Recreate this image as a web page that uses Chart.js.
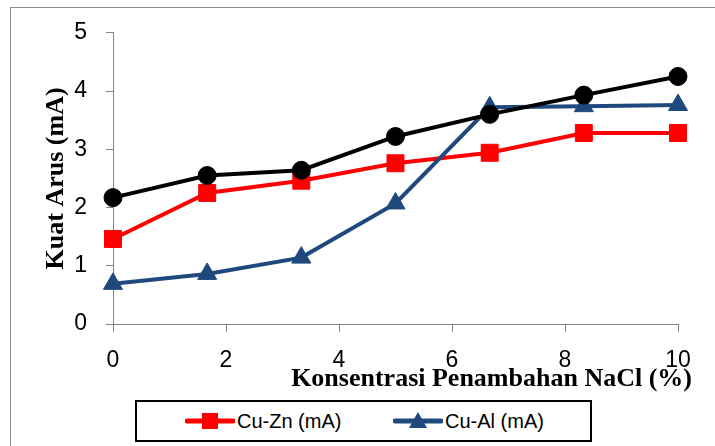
<!DOCTYPE html>
<html>
<head>
<meta charset="utf-8">
<script src="https://cdn.jsdelivr.net/npm/chart.js@4.4.1/dist/chart.umd.min.js"></script>
<style>
  html, body { margin: 0; padding: 0; background: #fff; overflow: hidden; }
  #wrap { position: relative; width: 715px; height: 446px; }
  #frame { position: absolute; left: 10px; top: 7px; width: 800px; height: 500px; border: 1px solid #8c8c8c; }
  #chart { position: absolute; left: 0; top: 0; }
  #legend {
    position: absolute; left: 135px; top: 400px; width: 453px; height: 38px;
    border: 2px solid #000; background: #fff;
    font-family: "Liberation Sans", Arial, sans-serif; font-size: 20px; color: #000;
  }
  #legend .item { position: absolute; top: 6px; height: 26px; display: flex; align-items: center; }
  #legend svg { margin-right: 2px; }
</style>
</head>
<body>
<div id="wrap">
  <div id="frame"></div>
  <canvas id="chart" width="715" height="446"></canvas>
  <div id="legend"></div>
</div>
<script>
// konsentrasi NaCl (%)
const konsentrasi = [0, 1.667, 3.333, 5, 6.667, 8.333, 10];

// kuat arus (mA)
const cuZn = [1.46, 2.25, 2.46, 2.76, 2.94, 3.28, 3.28];
const cuAl = [0.69, 0.86, 1.14, 2.07, 3.72, 3.74, 3.76];
const seri3 = [2.17, 2.55, 2.64, 3.22, 3.60, 3.93, 4.25];

const labels = ["Cu-Zn (mA)", "Cu-Al (mA)", ""];
const xTicks = [0, 2, 4, 6, 8, 10];
const yTicks = [0, 1, 2, 3, 4, 5];

const RED = "#ff0000";
const BLUE = "#1f497d";
const BLACK = "#000000";

const toPoints = (values) => values.map((v, i) => ({ x: konsentrasi[i], y: v }));

const axisTitles = {
  id: "axisTitles",
  afterDraw(c) {
    const { ctx, chartArea } = c;
    ctx.save();
    ctx.fillStyle = "#000";
    ctx.font = "bold 26px 'Liberation Serif', 'Times New Roman', serif";
    ctx.textBaseline = "middle";

    ctx.textAlign = "right";
    ctx.fillText("Konsentrasi Penambahan NaCl (%)", chartArea.right + 14, chartArea.bottom + 55);

    ctx.translate(chartArea.left - 57, (chartArea.top + chartArea.bottom) / 2);
    ctx.rotate(-Math.PI / 2);
    ctx.textAlign = "center";
    ctx.fillText("Kuat Arus (mA)", 0, 0);
    ctx.restore();
  }
};

const tickFont = { family: "'Liberation Sans', Arial, sans-serif", size: 23 };

const chart = new Chart(document.getElementById("chart"), {
  type: "line",
  data: {
    datasets: [
      {
        label: labels[2],
        data: toPoints(seri3),
        borderColor: BLACK,
        backgroundColor: BLACK,
        borderWidth: 4,
        pointStyle: "circle",
        pointRadius: 9,
        pointBorderWidth: 1,
        clip: false
      },
      {
        label: labels[1],
        data: toPoints(cuAl),
        borderColor: BLUE,
        backgroundColor: BLUE,
        borderWidth: 4,
        pointStyle: "triangle",
        pointRadius: 11,
        pointBorderWidth: 1,
        clip: false
      },
      {
        label: labels[0],
        data: toPoints(cuZn),
        borderColor: RED,
        backgroundColor: RED,
        borderWidth: 4,
        pointStyle: "rect",
        pointRadius: 12,
        pointBorderWidth: 1,
        clip: false
      }
    ]
  },
  options: {
    responsive: false,
    animation: false,
    events: [],
    layout: { padding: { left: 0, right: 37, top: 30, bottom: 0 } },
    plugins: {
      legend: { display: false },
      tooltip: { enabled: false }
    },
    scales: {
      x: {
        type: "linear",
        min: 0,
        max: 10,
        afterBuildTicks: (scale) => { scale.ticks = xTicks.map(v => ({ value: v })); },
        afterFit: (scale) => { scale.height = 122; },
        ticks: { color: "#000", font: tickFont, padding: 15 },
        grid: { drawOnChartArea: false, drawTicks: true, tickLength: 8, color: "#868686", lineWidth: 1 },
        border: { display: true, color: "#868686", width: 1 }
      },
      y: {
        min: 0,
        max: 5,
        afterBuildTicks: (scale) => { scale.ticks = yTicks.map(v => ({ value: v })); },
        afterFit: (scale) => { scale.width = 113; },
        ticks: { color: "#000", font: tickFont, padding: 19 },
        grid: { drawOnChartArea: false, drawTicks: true, tickLength: 7, color: "#868686", lineWidth: 1 },
        border: { display: true, color: "#868686", width: 1 }
      }
    }
  },
  plugins: [axisTitles]
});

// legend like the original: only the two named series, line + marker
function renderLegend() {
  const legend = document.getElementById("legend");
  const entries = [
    { label: labels[0], color: RED, shape: "rect", left: 48 },
    { label: labels[1], color: BLUE, shape: "triangle", left: 256 }
  ];
  entries.forEach(e => {
    const item = document.createElement("div");
    item.className = "item";
    item.style.left = e.left + "px";
    const marker = e.shape === "rect"
      ? `<rect x="17" y="5" width="16" height="16" fill="${e.color}"/>`
      : `<polygon points="25,4 34,20 16,20" fill="${e.color}"/>`;
    item.innerHTML = `
      <svg width="50" height="26" viewBox="0 0 50 26">
        <line x1="2" y1="13" x2="48" y2="13" stroke="${e.color}" stroke-width="5" stroke-linecap="round"/>
        ${marker}
      </svg>
      <span>${e.label}</span>
    `;
    legend.appendChild(item);
  });
}

renderLegend();
</script>
</body>
</html>
